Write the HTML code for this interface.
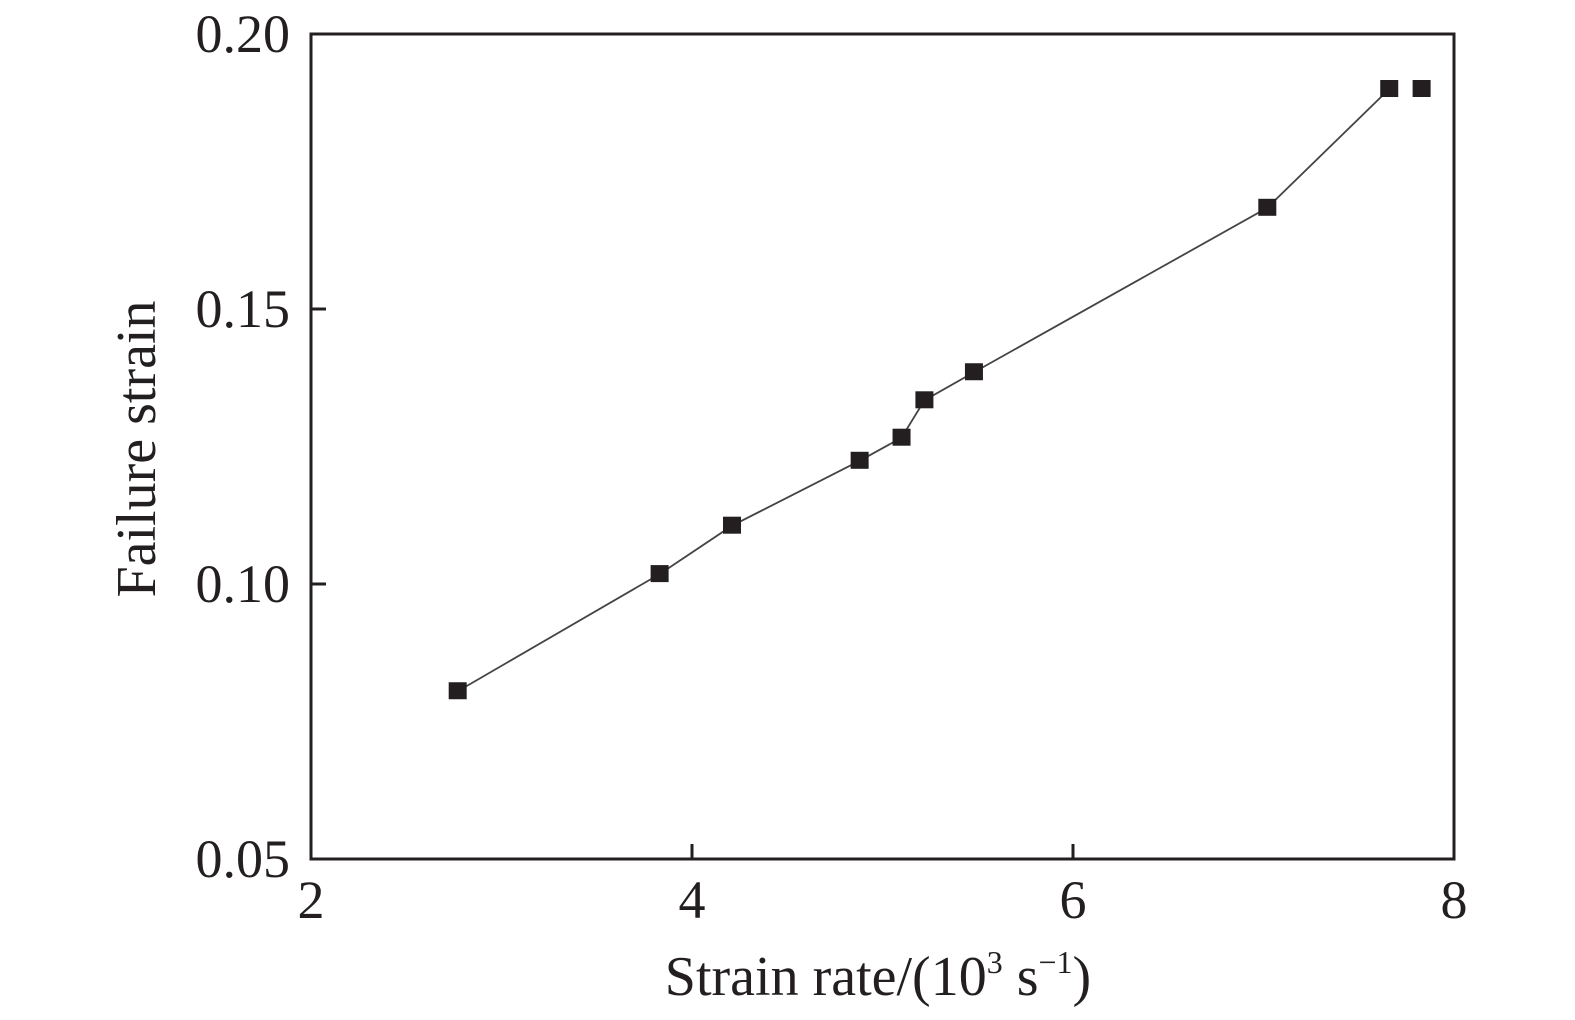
<!DOCTYPE html>
<html><head><meta charset="utf-8"><style>
html,body{margin:0;padding:0;background:#fff;}
svg{display:block;font-family:"Liberation Serif",serif;}
</style></head><body>
<svg width="1575" height="1020" viewBox="0 0 1575 1020">
<g id="plot"></g>
</svg>
<script>
const xValues=[2.77,3.83,4.21,4.88,5.10,5.22,5.48,7.02,7.66,7.83];
const yValues=[0.0805,0.1018,0.1106,0.1224,0.1266,0.1334,0.1385,0.1684,0.1900,0.1900];
const xTicks=[2,4,6,8];
const yTicks=[0.05,0.10,0.15,0.20];
const yTickLabels=["0.05","0.10","0.15","0.20"];
const L=311,R=1454,T=34,B=859;
const X=v=>L+(v-2)/6*(R-L);
const Y=v=>B-(v-0.05)/0.15*(B-T);
const NS="http://www.w3.org/2000/svg";
const g=document.getElementById('plot');
function mk(tag,attrs){const e=document.createElementNS(NS,tag);for(const k in attrs)e.setAttribute(k,attrs[k]);g.appendChild(e);return e;}
let fr=mk('rect',{x:L,y:T,width:R-L,height:B-T,fill:'none',stroke:'#231f20','stroke-width':3});


xTicks.forEach((t,i)=>{
 let l=mk('line',{x1:X(t),x2:X(t),y1:B,y2:B-15,stroke:'#231f20','stroke-width':3});
 
 
 let tx=mk('text',{x:X(t),y:918,'text-anchor':'middle','font-size':54,fill:'#231f20'});
 tx.textContent=String(t);
 
 
});
yTicks.forEach((t,i)=>{
 let l=mk('line',{x1:L,x2:L+15,y1:Y(t),y2:Y(t),stroke:'#231f20','stroke-width':3});
 
 
 let tx=mk('text',{x:290,y:Y(t)+18,'text-anchor':'end','font-size':54,fill:'#231f20'});
 tx.textContent=yTickLabels[i];
 
 
});
let pts=[];for(let i=0;i<9;i++)pts.push(X(xValues[i])+','+Y(yValues[i]));
let pl=mk('polyline',{points:pts.join(' '),fill:'none',stroke:'#444','stroke-width':1.8});


for(let i=0;i<xValues.length;i++){
 let r=mk('rect',{x:X(xValues[i])-9,y:Y(yValues[i])-9,width:18,height:17,fill:'#231f20'});
 
 
}
let xt=mk('text',{x:878,y:995,'text-anchor':'middle','font-size':56,fill:'#231f20'});
xt.innerHTML='Strain rate/(10<tspan font-size="32" dy="-22">3</tspan><tspan dy="22"> s</tspan><tspan font-size="32" dy="-22">−1</tspan><tspan dy="22">)</tspan>';


let yt=mk('text',{x:155,y:449,'text-anchor':'middle','font-size':56,fill:'#231f20',transform:'rotate(-90 155 449)'});
yt.textContent='Failure strain';


</script>
</body></html>
